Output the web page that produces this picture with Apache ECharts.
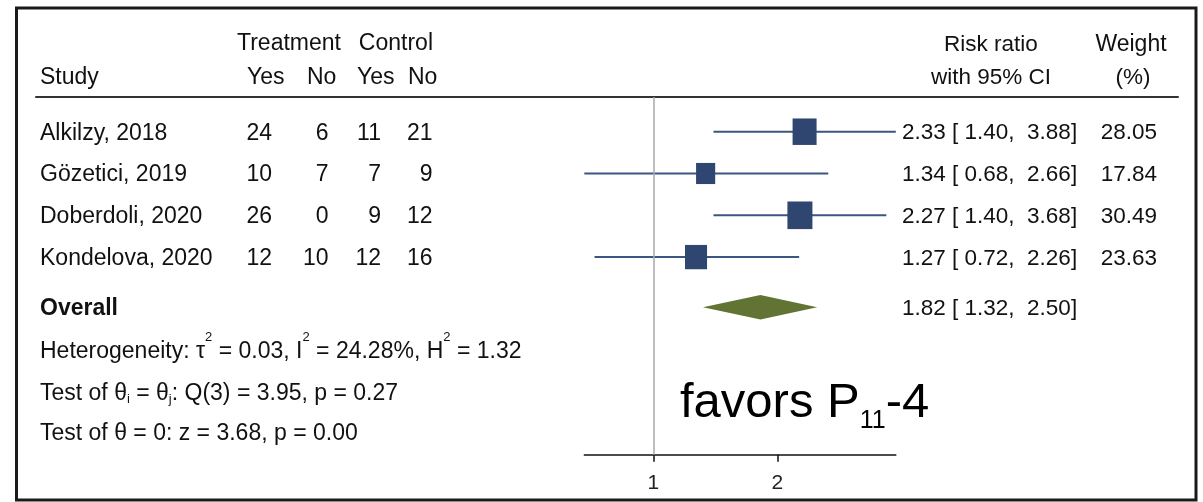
<!DOCTYPE html>
<html><head><meta charset="utf-8">
<script src="https://cdn.jsdelivr.net/npm/echarts@6/dist/echarts.min.js"></script>
<style>html,body{margin:0;padding:0;background:#fff}#c{width:1203px;height:502px}</style>
</head><body><div id="c"></div>
<script>
// ---------- data ----------
const studies   = ['Alkilzy, 2018', 'Gözetici, 2019', 'Doberdoli, 2020', 'Kondelova, 2020'];
const treatYes  = [24, 10, 26, 12];
const treatNo   = [6, 7, 0, 10];
const ctrlYes   = [11, 7, 9, 12];
const ctrlNo    = [21, 9, 12, 16];
const riskRatio = [2.33, 1.34, 2.27, 1.27];
const ciLow     = [1.40, 0.68, 1.40, 0.72];
const ciHigh    = [3.88, 2.66, 3.68, 2.26];
const weights   = [28.05, 17.84, 30.49, 23.63];
const overallRR = [1.82];
const overallLow = [1.32];
const overallHigh = [2.50];
const xTicks = [1, 2];
const xMin = 0.68, xMax = 3.88;
const statsLines = [
  'Heterogeneity: τ{sup|2} = 0.03, I{sup|2} = 24.28%, H{sup|2} = 1.32',
  'Test of θ{sub|i} = θ{sub|j}: Q(3) = 3.95, p = 0.27',
  'Test of θ = 0: z = 3.68, p = 0.00'
];

// ---------- layout ----------
const FONT = "'Liberation Sans', Arial, Helvetica, sans-serif";
const FS = 23;      // left table text
const FSR = 22.5;   // right table text
const ROW0 = 131.7, STEP = 41.8, GRID_TOP = 97, AXIS_Y = 454.7;
const yMin = (GRID_TOP - ROW0) / STEP, yMax = (AXIS_Y - ROW0) / STEP;
const rowOf = px => (px - ROW0) / STEP;   // layout helper for text rows
const TXT_DY = 1.5;

const fmt = v => v.toFixed(2);
const ciText = (e, l, h) => `${fmt(e)} [ ${fmt(l)},  ${fmt(h)}]`;

const texts = [];
function T(x, r, text, align, extra) { texts.push(Object.assign({x, r, text, align: align || 'left', fs: FS}, extra || {})); }

// headers
T(237, rowOf(44), 'Treatment', 'left');
T(433, rowOf(44), 'Control', 'right');
T(40, rowOf(77.5), 'Study', 'left');
T(247, rowOf(77.5), 'Yes', 'left');
T(307, rowOf(77.5), 'No', 'left');
T(357, rowOf(77.5), 'Yes', 'left');
T(408, rowOf(77.5), 'No', 'left');
T(991, rowOf(44.5), 'Risk ratio', 'center', {fs: FSR});
T(991, rowOf(78), 'with 95% CI', 'center', {fs: FSR});
T(1131, rowOf(44.5), 'Weight', 'center', {fs: 23});
T(1133, rowOf(78), '(%)', 'center', {fs: FSR});
// study rows
studies.forEach((s, i) => {
  T(40, i, s, 'left', {dy: TXT_DY});
  T(272, i, String(treatYes[i]), 'right', {dy: TXT_DY});
  T(328.5, i, String(treatNo[i]), 'right', {dy: TXT_DY});
  T(381, i, String(ctrlYes[i]), 'right', {dy: TXT_DY});
  T(432.5, i, String(ctrlNo[i]), 'right', {dy: TXT_DY});
  T(902, i, ciText(riskRatio[i], ciLow[i], ciHigh[i]), 'left', {dy: TXT_DY, fs: FSR});
  T(1157, i, fmt(weights[i]), 'right', {dy: TXT_DY, fs: FSR});
});
// overall
T(40, rowOf(308.3), 'Overall', 'left', {bold: true});
T(902, rowOf(308.3), ciText(overallRR[0], overallLow[0], overallHigh[0]), 'left', {fs: FSR});
// stats
const statRows = [351.7, 393.5, 433.5];
statsLines.forEach((s, i) => T(40, rowOf(statRows[i]), s, 'left', {rich: i === 0 ? 'sup' : 'sub'}));
// favors
T(680, rowOf(403.5), '{a|favors P}{s|11}{a|-4}', 'left', {big: true});

const mkRich = boxH => ({
  n: {fontSize: FS, fontFamily: FONT, lineHeight: boxH, fill: '#111'},
  sup: {fontSize: 13, fontFamily: FONT, verticalAlign: 'top', fill: '#111'},
  sub: {fontSize: 13, fontFamily: FONT, verticalAlign: 'bottom', fill: '#111'}
});
const richSup = mkRich(42);
const richSub = mkRich(25);
const richBig = {
  a: {fontSize: 49, fontFamily: FONT, lineHeight: 61, fill: '#000'},
  s: {fontSize: 25, fontFamily: FONT, verticalAlign: 'bottom', fill: '#000'}
};

const chart = echarts.init(document.getElementById('c'), null, {renderer: 'canvas'});
chart.setOption({
  animation: false,
  backgroundColor: '#fff',
  graphic: [{
    type: 'rect', silent: true,
    shape: {x: 16.5, y: 8, width: 1179.5, height: 492},
    style: {fill: 'none', stroke: '#1a1a1a', lineWidth: 3}
  }],
  grid: [
    {left: 584.3, width: 311.5, top: GRID_TOP, bottom: 502 - AXIS_Y},
    {left: 36, right: 1203 - 1178, top: GRID_TOP, bottom: 502 - AXIS_Y}
  ],
  xAxis: [
    {
      type: 'log', logBase: 2, min: xMin, max: xMax, gridIndex: 0,
      axisLine: {show: true, onZero: false, lineStyle: {color: '#111', width: 1.5}},
      axisTick: {show: true, length: 7, lineStyle: {color: '#111', width: 1.5}, customValues: xTicks},
      axisLabel: {show: true, customValues: xTicks, color: '#222', fontSize: 21, fontFamily: FONT, margin: 18,
        formatter: v => String(v)},
      splitLine: {show: false}
    },
    {
      type: 'value', min: 36, max: 1178, gridIndex: 1, position: 'top',
      axisLine: {show: true, onZero: false, lineStyle: {color: '#333', width: 2}},
      axisTick: {show: false}, axisLabel: {show: false}, splitLine: {show: false}
    }
  ],
  yAxis: [
    {type: 'value', inverse: true, min: yMin, max: yMax, gridIndex: 0, show: false},
    {type: 'value', inverse: true, min: yMin, max: yMax, gridIndex: 1, show: false}
  ],
  series: [
    {
      type: 'line', xAxisIndex: 0, yAxisIndex: 0, data: [], silent: true,
      markLine: {silent: true, symbol: 'none', label: {show: false},
        lineStyle: {color: '#a8a8a8', width: 1.5, type: 'solid'}, data: [{xAxis: 1}]}
    },
    {
      type: 'custom', xAxisIndex: 0, yAxisIndex: 0, silent: true, clip: false,
      data: studies.map((s, i) => [riskRatio[i], ciLow[i], ciHigh[i], weights[i], i]),
      encode: {x: [0, 1, 2], y: 4},
      renderItem: (params, api) => {
        const r = api.value(4);
        const pL = api.coord([api.value(1), r]);
        const pH = api.coord([api.value(2), r]);
        const pE = api.coord([api.value(0), r]);
        const k = Math.sqrt(api.value(3));
        const sw = 4.53 * k, sh = 5.0 * k;
        return {type: 'group', children: [
          {type: 'line', shape: {x1: pL[0], y1: pL[1], x2: pH[0], y2: pH[1]}, style: {stroke: '#3c5683', lineWidth: 2}},
          {type: 'rect', shape: {x: pE[0] - sw / 2, y: pE[1] - sh / 2, width: sw, height: sh}, style: {fill: '#2e4670'}}
        ]};
      }
    },
    {
      type: 'custom', xAxisIndex: 0, yAxisIndex: 0, silent: true, clip: false,
      data: overallRR.map((e, i) => [e, overallLow[i], overallHigh[i], rowOf(307.2)]),
      encode: {x: [0, 1, 2], y: 3},
      renderItem: (params, api) => {
        const r = api.value(3);
        const pL = api.coord([api.value(1), r]);
        const pH = api.coord([api.value(2), r]);
        const pE = api.coord([api.value(0), r]);
        const hh = 12.2;
        return {type: 'polygon', shape: {points: [[pL[0], pL[1]], [pE[0], pE[1] - hh], [pH[0], pH[1]], [pE[0], pE[1] + hh]]},
          style: {fill: '#627434'}};
      }
    },
    {
      type: 'custom', xAxisIndex: 1, yAxisIndex: 1, silent: true, clip: false,
      data: texts.map(t => [t.x, t.r]),
      encode: {x: 0, y: 1},
      renderItem: (params, api) => {
        const t = texts[params.dataIndex];
        const p = api.coord([api.value(0), api.value(1)]);
        const style = {
          text: t.text, align: t.align, verticalAlign: 'middle', fill: '#111',
          fontSize: t.fs, fontFamily: FONT, fontWeight: t.bold ? 'bold' : 'normal'
        };
        if (t.rich) {
          style.text = '{n|' + t.text.replace(/\{(sup|sub)\|([^}]*)\}/g, '}{$1|$2}{n|') + '}';
          style.rich = t.rich === 'sup' ? richSup : richSub;
        }
        if (t.big) { style.rich = richBig; style.fill = '#000'; }
        return {type: 'text', x: p[0], y: p[1] + (t.dy || 0), style};
      }
    }
  ]
});
</script>
</body></html>
